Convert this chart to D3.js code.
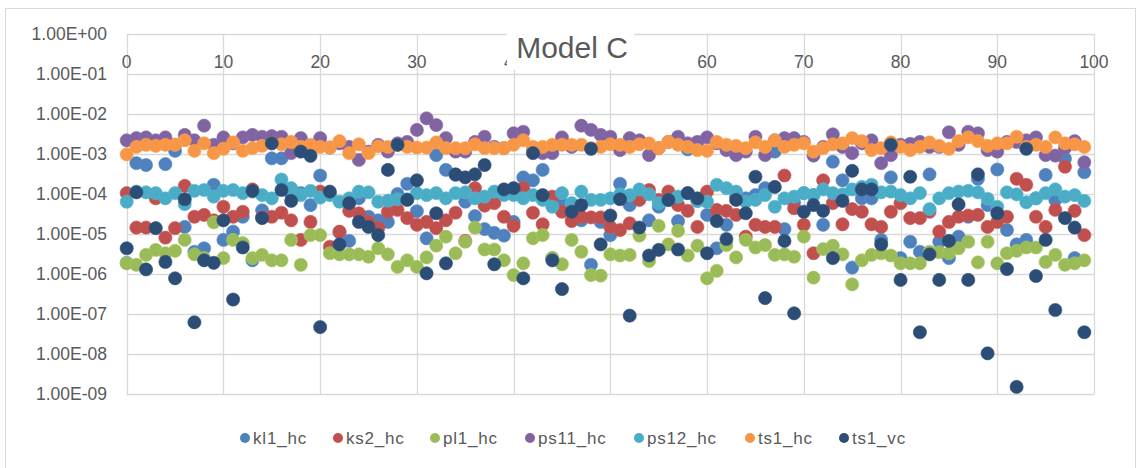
<!DOCTYPE html>
<html>
<head>
<meta charset="utf-8">
<script src="https://cdn.jsdelivr.net/npm/d3@7"></script>
<style>
  html, body { margin: 0; padding: 0; background: #fff; }
  svg { display: block; font-family: "Liberation Sans", Arial, sans-serif; }
</style>
</head>
<body>
<svg id="chart" width="1136" height="468"></svg>
<script>
"use strict";

// series values, one point per run index 0..99
const kl1_hc = [1.9e-6,5.9e-4,5.3e-4,1.0e-4,5.6e-4,1.2e-3,1.5e-5,3.6e-6,4.4e-6,1.7e-4,
  7.1e-6,1.15e-5,2.7e-5,2.2e-6,3.9e-5,7.8e-4,7.8e-4,1.0e-4,1.05e-4,5.3e-5,
  2.9e-4,1.0e-4,1.1e-5,6.7e-6,7.8e-5,2.7e-5,2.2e-5,2.0e-5,1.0e-4,1.8e-4,
  3.7e-5,7.8e-6,9.4e-4,4.0e-4,3.0e-4,6.4e-5,2.8e-5,1.33e-5,1.07e-5,9.1e-6,
  2.0e-5,2.6e-4,2.2e-4,4.0e-4,2.5e-6,5.9e-5,5.3e-5,2.2e-5,1.7e-6,2.0e-5,
  9.4e-6,1.8e-4,5.3e-5,1.0e-4,2.2e-5,4.8e-5,7.1e-5,2.1e-5,1.3e-3,6.7e-5,
  3.0e-5,4.4e-6,1.7e-5,8.6e-5,7.8e-5,9.4e-5,1.4e-4,1.15e-3,1.33e-5,6.0e-5,
  1.05e-4,9.4e-5,1.7e-5,6.4e-4,2.2e-4,1.45e-6,7.8e-5,7.8e-5,7.1e-6,2.6e-4,
  2.5e-6,6.4e-6,3.6e-6,3.1e-4,6.4e-6,2.5e-6,8.6e-6,2.7e-5,2.4e-4,5.3e-5,
  4.1e-4,1.26e-5,5.5e-6,7.1e-6,7.8e-5,3.0e-4,7.1e-5,7.6e-4,2.5e-6,3.5e-4];

const ks2_hc = [1.05e-4,1.45e-5,1.45e-5,7.8e-5,8.1e-6,1.4e-5,1.6e-4,2.7e-5,3.0e-5,2.2e-5,
  4.8e-5,2.7e-5,3.6e-5,1.3e-4,2.6e-5,2.7e-5,3.4e-5,2.2e-5,7.1e-6,2.0e-5,
  1.15e-4,4.8e-6,1.15e-5,3.8e-5,3.3e-5,2.0e-5,1.4e-5,3.6e-5,4.0e-5,2.5e-5,
  1.7e-5,2.0e-5,1.4e-5,2.2e-5,3.4e-5,6.7e-6,1.4e-4,5.1e-5,5.9e-5,2.7e-5,
  1.6e-5,1.4e-4,3.4e-5,1.75e-5,8.6e-5,3.6e-5,2.1e-5,2.7e-5,2.6e-5,2.6e-5,
  1.5e-5,1.26e-5,1.85e-5,7.1e-5,1.26e-4,7.1e-5,1.15e-4,5.3e-5,3.8e-5,1.5e-5,
  1.15e-4,4.0e-5,3.8e-5,3.0e-5,8.6e-6,1.7e-5,1.5e-5,1.5e-5,2.9e-4,4.4e-5,
  1.7e-5,3.3e-6,2.2e-4,5.9e-5,1.75e-5,4.2e-5,3.6e-5,1.75e-5,1.5e-5,3.6e-5,
  5.9e-5,2.5e-5,2.5e-5,3.6e-5,1.15e-5,2.0e-5,2.7e-5,2.9e-5,3.0e-5,1.5e-5,
  2.0e-5,2.7e-5,2.4e-4,1.7e-4,2.7e-5,1.5e-5,4.0e-5,4.8e-4,3.8e-5,9.4e-6];

const pl1_hc = [1.85e-6,1.7e-6,3.0e-6,4.0e-6,3.3e-6,3.8e-6,7.1e-6,3.1e-6,2.5e-6,1.95e-5,
  2.5e-6,7.1e-6,5.9e-6,2.5e-6,3.0e-6,2.2e-6,2.2e-6,7.1e-6,1.7e-6,9.4e-6,
  9.4e-6,3.3e-6,3.1e-6,3.1e-6,3.1e-6,2.7e-6,4.4e-6,3.1e-6,1.5e-6,2.2e-6,
  1.5e-6,2.6e-6,5.1e-6,8.6e-6,3.3e-6,6.4e-6,1.45e-5,4.1e-6,4.1e-6,2.2e-6,
  9.4e-7,1.85e-6,7.8e-6,9.4e-6,2.5e-6,1.75e-6,7.1e-6,3.6e-6,9.4e-7,9.1e-7,
  3.1e-6,2.9e-6,3.0e-6,9.1e-6,2.1e-6,1.6e-5,5.5e-6,1.2e-5,2.9e-6,5.1e-6,
  7.8e-7,1.2e-6,5.3e-6,2.6e-6,7.1e-6,4.6e-6,5.3e-6,3.0e-6,3.1e-6,2.7e-6,
  8.6e-6,8.1e-7,4.2e-6,5.1e-6,3.1e-6,5.5e-7,2.2e-6,3.0e-6,3.3e-6,2.9e-6,
  1.85e-6,1.85e-6,1.85e-6,3.6e-6,3.5e-6,3.3e-6,4.4e-6,6.4e-6,1.95e-6,6.4e-6,
  1.85e-6,3.3e-6,3.8e-6,4.6e-6,4.6e-6,2.0e-6,3.0e-6,1.7e-6,1.85e-6,2.2e-6];

const ps11_hc = [2.2e-3,2.5e-3,2.6e-3,2.2e-3,2.6e-3,1.7e-3,3.0e-3,2.2e-3,5.1e-3,1.7e-3,
  2.6e-3,1.85e-3,2.6e-3,3.0e-3,2.7e-3,2.8e-3,2.7e-3,1.05e-3,2.5e-3,1.25e-3,
  2.5e-3,1.45e-3,1.85e-3,1.5e-3,7.1e-4,1.15e-3,1.7e-3,1.15e-3,1.85e-3,2.0e-3,
  4.0e-3,7.8e-3,5.3e-3,2.5e-3,1.15e-3,1.15e-3,2.0e-3,2.7e-3,1.5e-3,1.4e-3,
  3.3e-3,3.6e-3,1.4e-3,1.05e-3,1.05e-3,2.6e-3,1.5e-3,5.1e-3,4.0e-3,3.0e-3,
  2.7e-3,1.25e-3,2.5e-3,2.2e-3,9.4e-4,1.4e-3,2.0e-3,2.7e-3,1.85e-3,2.0e-3,
  2.6e-3,1.85e-3,1.25e-3,9.4e-4,1.15e-3,2.7e-3,9.4e-4,2.2e-3,2.5e-3,2.5e-3,
  2.0e-3,9.1e-4,1.5e-3,3.1e-3,1.5e-3,1.05e-3,1.85e-3,2.2e-3,5.9e-4,9.4e-4,
  1.7e-3,1.8e-3,2.0e-3,1.5e-3,1.5e-3,3.5e-3,1.7e-3,3.6e-3,3.3e-3,1.25e-3,
  1.15e-3,2.0e-3,2.0e-3,2.2e-3,2.6e-3,9.4e-4,9.1e-4,1.4e-3,2.1e-3,6.2e-4];

const ps12_hc = [6.4e-5,1.15e-4,1.1e-4,1.05e-4,7.8e-5,1.05e-4,5.6e-5,1.2e-4,1.26e-4,8.6e-5,
  1.2e-4,1.26e-4,1.05e-4,1.15e-4,9.4e-5,7.8e-5,2.3e-4,1.4e-4,9.4e-5,1.2e-4,
  8.1e-5,9.4e-5,6.4e-5,7.8e-5,1.15e-4,1.1e-4,6.4e-5,6.8e-5,7.4e-5,7.4e-5,
  1.05e-4,9.4e-5,1.05e-4,7.8e-5,1.05e-4,1.1e-4,7.8e-5,8.6e-5,1.15e-4,9.4e-5,
  9.4e-5,7.8e-5,9.4e-5,7.1e-5,4.8e-5,1.05e-4,5.9e-5,1.15e-4,7.1e-5,7.1e-5,
  7.8e-5,9.8e-5,9.4e-5,1.3e-4,9.8e-5,5.9e-5,7.1e-5,8.6e-5,1.05e-4,6.7e-5,
  6.4e-5,1.7e-4,1.4e-4,1.15e-4,6.4e-5,7.1e-5,9.4e-5,4.8e-5,7.8e-5,8.6e-5,
  1.05e-4,9.4e-5,1.3e-4,1.05e-4,9.8e-5,1.3e-4,1.5e-4,1.7e-4,1.1e-4,1.15e-4,
  9.4e-5,7.8e-5,1.05e-4,4.2e-5,7.8e-5,1.05e-4,1.15e-4,1.2e-4,1.1e-4,7.6e-5,
  4.8e-5,1.1e-4,9.8e-5,6.2e-5,7.8e-5,1.05e-4,1.3e-4,8.6e-5,9.4e-5,6.7e-5];

const ts1_hc = [9.8e-4,1.5e-3,1.7e-3,1.6e-3,1.7e-3,1.7e-3,2.2e-3,1.2e-3,1.85e-3,1.05e-3,
  1.35e-3,1.95e-3,1.2e-3,1.4e-3,1.6e-3,1.85e-3,1.75e-3,2.0e-3,1.5e-3,1.7e-3,
  1.5e-3,1.45e-3,2.1e-3,1.05e-3,1.75e-3,1.05e-3,1.55e-3,1.5e-3,1.7e-3,1.5e-3,
  1.45e-3,1.45e-3,1.95e-3,1.4e-3,1.4e-3,1.4e-3,1.75e-3,1.4e-3,1.4e-3,1.4e-3,
  1.7e-3,2.2e-3,1.5e-3,1.5e-3,1.7e-3,1.7e-3,1.7e-3,1.7e-3,1.4e-3,1.5e-3,
  1.75e-3,1.7e-3,1.5e-3,1.75e-3,1.85e-3,1.4e-3,2.0e-3,1.7e-3,1.5e-3,1.25e-3,
  1.2e-3,2.0e-3,1.7e-3,1.6e-3,1.4e-3,1.95e-3,1.5e-3,2.2e-3,1.5e-3,1.7e-3,
  1.85e-3,1.15e-3,1.4e-3,1.75e-3,1.85e-3,2.5e-3,2.1e-3,1.25e-3,1.4e-3,1.95e-3,
  1.5e-3,1.25e-3,1.5e-3,1.95e-3,1.6e-3,1.35e-3,2.1e-3,2.6e-3,2.1e-3,1.6e-3,
  1.85e-3,1.85e-3,2.7e-3,1.5e-3,1.7e-3,1.5e-3,2.6e-3,1.85e-3,1.75e-3,1.5e-3];

const ts1_vc = [4.4e-6,1.1e-4,1.3e-6,1.4e-5,2.0e-6,7.8e-7,7.4e-5,6.2e-8,2.2e-6,1.9e-6,
  2.2e-5,2.3e-7,4.6e-6,1.2e-4,2.5e-5,1.85e-3,1.26e-4,6.7e-5,1.15e-3,9.0e-4,
  4.7e-8,1.15e-4,5.5e-6,5.9e-5,2.0e-5,1.5e-5,9.4e-6,4.0e-4,1.7e-3,7.1e-5,
  2.2e-4,1.04e-6,3.3e-5,1.85e-6,3.1e-4,2.6e-4,3.1e-4,5.3e-4,1.75e-6,1.3e-4,
  1.4e-4,7.8e-7,1.05e-3,9.4e-5,2.2e-6,4.2e-7,3.6e-5,5.3e-5,1.35e-3,5.5e-6,
  2.9e-5,7.4e-5,9.1e-8,1.45e-5,2.9e-6,4.0e-6,7.1e-5,4.1e-6,1.05e-4,7.8e-5,
  3.3e-6,2.1e-5,7.5e-6,7.1e-5,3.3e-5,2.7e-4,2.5e-7,1.5e-4,6.7e-6,1.04e-7,
  3.6e-5,5.3e-5,3.8e-5,2.5e-6,6.7e-5,3.8e-4,1.3e-4,1.3e-4,5.5e-6,1.7e-3,
  7.1e-7,2.7e-4,3.5e-8,3.1e-6,7.1e-7,6.7e-6,5.5e-5,7.1e-7,3.1e-4,1.04e-8,
  3.3e-5,1.33e-6,1.5e-9,1.35e-3,8.9e-7,7.1e-6,1.26e-7,2.5e-5,1.45e-5,3.5e-8];

const seriesNames = ["kl1_hc", "ks2_hc", "pl1_hc", "ps11_hc", "ps12_hc", "ts1_hc", "ts1_vc"];
const seriesValues = [kl1_hc, ks2_hc, pl1_hc, ps11_hc, ps12_hc, ts1_hc, ts1_vc];
const seriesColors = ["#4F81BD", "#C0504D", "#9BBB59", "#8064A2", "#4BACC6", "#F79646", "#2C4D75"];

const xTicks = [0, 10, 20, 30, 40, 50, 60, 70, 80, 90, 100];
const yTicks = [1, 1e-1, 1e-2, 1e-3, 1e-4, 1e-5, 1e-6, 1e-7, 1e-8, 1e-9];
const yTickLabels = ["1.00E+00", "1.00E-01", "1.00E-02", "1.00E-03", "1.00E-04",
  "1.00E-05", "1.00E-06", "1.00E-07", "1.00E-08", "1.00E-09"];

const title = "Model C";

const svg = d3.select("#chart");
const W = 1136, H = 468;
const plot = { left: 126.7, right: 1094, top: 34, bottom: 394 };
const gridColor = "#d9d9d9";
const textColor = "#595959";
// white box that the title sits on (it hides part of the top axis)
const titleBox = { x: 507, y: 26, w: 127, h: 44 };

const x = d3.scaleLinear().domain([0, 100]).range([plot.left, plot.right]);
const y = d3.scaleLog().domain([1e-9, 1]).range([plot.bottom, plot.top]);

// chart border
svg.append("rect")
    .attr("x", 5.5).attr("y", 8.5)
    .attr("width", W - 6).attr("height", H)
    .attr("fill", "#fff")
    .attr("stroke", gridColor);

// gridlines
const grid = svg.append("g");
grid.selectAll("line.h")
    .data(yTicks)
    .enter().append("line")
    .attr("x1", plot.left).attr("x2", plot.right)
    .attr("y1", d => Math.round(y(d)) + 0.5).attr("y2", d => Math.round(y(d)) + 0.5)
    .attr("stroke", gridColor).attr("stroke-width", 1.3);
grid.selectAll("line.v")
    .data(xTicks)
    .enter().append("line")
    .attr("x1", d => Math.round(x(d)) + 0.5).attr("x2", d => Math.round(x(d)) + 0.5)
    .attr("y1", plot.top).attr("y2", plot.bottom)
    .attr("stroke", gridColor).attr("stroke-width", 1.3);

// y axis labels
svg.append("g").selectAll("text")
    .data(yTicks)
    .enter().append("text")
    .attr("x", 107)
    .attr("y", d => y(d) + 6)
    .attr("text-anchor", "end")
    .attr("font-size", 17.5)
    .attr("fill", textColor)
    .text((d, i) => yTickLabels[i]);

// x axis labels (axis crosses at the top); a label wholly under the title box is not drawn
svg.append("g").selectAll("text")
    .data(xTicks.filter(d => x(d) - 8 < titleBox.x || x(d) + 8 > titleBox.x + titleBox.w))
    .enter().append("text")
    .attr("x", d => x(d))
    .attr("y", 68)
    .attr("text-anchor", "middle")
    .attr("font-size", 17.5)
    .attr("fill", textColor)
    .text(d => d);

// points, drawn series by series so later series sit on top
const pts = svg.append("g");
seriesValues.forEach((vals, s) => {
    pts.append("g").selectAll("circle")
        .data(vals)
        .enter().append("circle")
        .attr("cx", (d, i) => x(i))
        .attr("cy", d => y(d))
        .attr("r", 6.6)
        .attr("fill", seriesColors[s])
        .attr("stroke", d3.color(seriesColors[s]).brighter(0.2))
        .attr("stroke-width", 0.6);
});

// title
svg.append("rect")
    .attr("x", titleBox.x).attr("y", titleBox.y)
    .attr("width", titleBox.w).attr("height", titleBox.h)
    .attr("fill", "#fff");
svg.append("text")
    .attr("x", 572)
    .attr("y", 58)
    .attr("text-anchor", "middle")
    .attr("font-size", 30)
    .attr("fill", textColor)
    .text(title);

// legend
const legendX = [245, 338, 435, 530, 639, 750, 844];
const legend = svg.append("g");
seriesNames.forEach((name, i) => {
    legend.append("circle")
        .attr("cx", legendX[i]).attr("cy", 438)
        .attr("r", 5)
        .attr("fill", seriesColors[i]);
    legend.append("text")
        .attr("x", legendX[i] + 8)
        .attr("y", 444)
        .attr("font-size", 17)
        .attr("letter-spacing", 0.8)
        .attr("fill", textColor)
        .text(name);
});
</script>
</body>
</html>
